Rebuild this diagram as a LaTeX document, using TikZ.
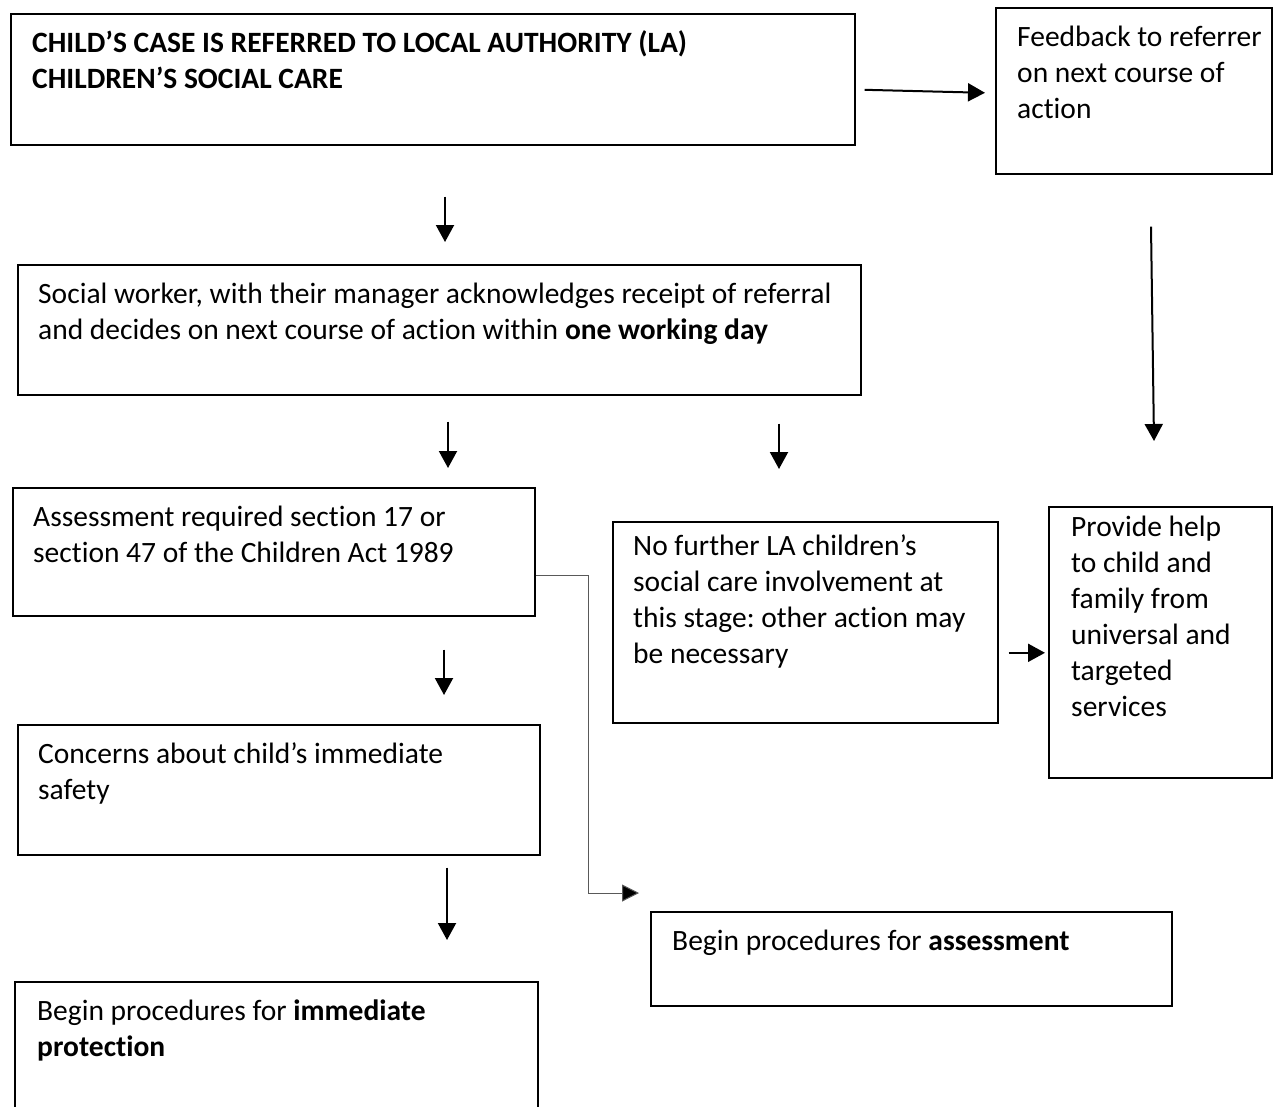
\documentclass[tikz,border=0pt]{standalone}
\usepackage{fontspec}
\setmainfont[Ligatures=NoCommon]{Carlito}
\usetikzlibrary{arrows.meta,calc}
\frenchspacing
\begin{document}
\begin{tikzpicture}[x=1pt,y=-1pt,
  box/.style={draw, line width=1.6pt, inner sep=0pt, anchor=north west},
  lbl/.style={anchor=north west, inner sep=0pt, align=left, font=\fontsize{29.5}{36}\selectfont},
  arr/.style={line width=2pt, -{Triangle[length=17pt,width=18pt]}},
  elbow/.style={draw=black!65, line width=1pt, -{Triangle[length=17pt,width=17pt,fill=black]}}]
\useasboundingbox[fill=white] (0,0) rectangle (1273,1106);
% boxes
\node[box, minimum width=844pt, minimum height=131pt] (b1) at (10,13) {};
\node[box, minimum width=276pt, minimum height=166pt] (b2) at (995,7) {};
\node[box, minimum width=843pt, minimum height=130pt] (b3) at (17,264) {};
\node[box, minimum width=522pt, minimum height=128pt] (b4) at (12,487) {};
\node[box, minimum width=385pt, minimum height=201pt] (b5) at (612,521) {};
\node[box, minimum width=223pt, minimum height=271pt] (b6) at (1048,506) {};
\node[box, minimum width=522pt, minimum height=130pt] (b7) at (17,724) {};
\node[box, minimum width=521pt, minimum height=94pt] (b8) at (650,911) {};
\node[box, minimum width=523pt, minimum height=135pt] (b9) at (14,981) {};
% texts
\node[lbl] (t1) at (32,30) {\rule{0pt}{22pt}\textbf{CHILD’S CASE IS REFERRED TO LOCAL AUTHORITY (LA)}\\\textbf{CHILDREN’S SOCIAL CARE}};
\node[lbl] (t2) at (1017,24) {\rule{0pt}{22pt}Feedback to referrer\\on next course of\\action};
\node[lbl] (t3) at (38,281) {\rule{0pt}{22pt}Social worker, with their manager acknowledges receipt of referral\\and decides on next course of action within \textbf{one working day}};
\node[lbl] (t4) at (33,504) {\rule{0pt}{22pt}Assessment required section 17 or\\section 47 of the Children Act 1989};
\node[lbl] (t5) at (633,533) {\rule{0pt}{22pt}No further LA children’s\\social care involvement at\\this stage: other action may\\be necessary};
\node[lbl] (t6) at (1071,514) {\rule{0pt}{22pt}Provide help\\to child and\\family from\\universal and\\targeted\\services};
\node[lbl] (t7) at (38,741) {\rule{0pt}{22pt}Concerns about child’s immediate\\safety};
\node[lbl] (t8) at (672,928) {\rule{0pt}{22pt}Begin procedures for \textbf{assessment}};
\node[lbl] (t9) at (37,998) {\rule{0pt}{22pt}Begin procedures for \textbf{immediate}\\\textbf{protection}};
% connectors
\draw[arr] ($(b1.east)+(9,10.5)$) -- ($(b2.west)+(-10,2)$);
\draw[arr] ($(b1.south west)+(435,51)$) -- ($(b3.north west)+(428,-22)$);
\draw[arr] ($(b3.south west)+(431,26)$) -- ($(b4.north west)+(436,-19)$);
\draw[arr] ($(b3.south west)+(762,28)$) -- ($(b5.north west)+(167,-52)$);
\draw[arr] ($(b2.south west)+(156,52)$) -- ($(b6.north west)+(106,-65)$);
\draw[arr] ($(b5.east)+(10,30.5)$) -- ($(b6.west)+(-3,10.5)$);
\draw[arr] ($(b4.south west)+(432,33)$) -- ($(b7.north west)+(427,-29)$);
\draw[arr] ($(b7.south west)+(430,12)$) -- ($(b9.north west)+(433,-41)$);
\draw[elbow] ($(b4.east)+(0,24)$) -- ++(53,0) |- ($(b8.north west)+(-11,-18)$);
\end{tikzpicture}
\end{document}
